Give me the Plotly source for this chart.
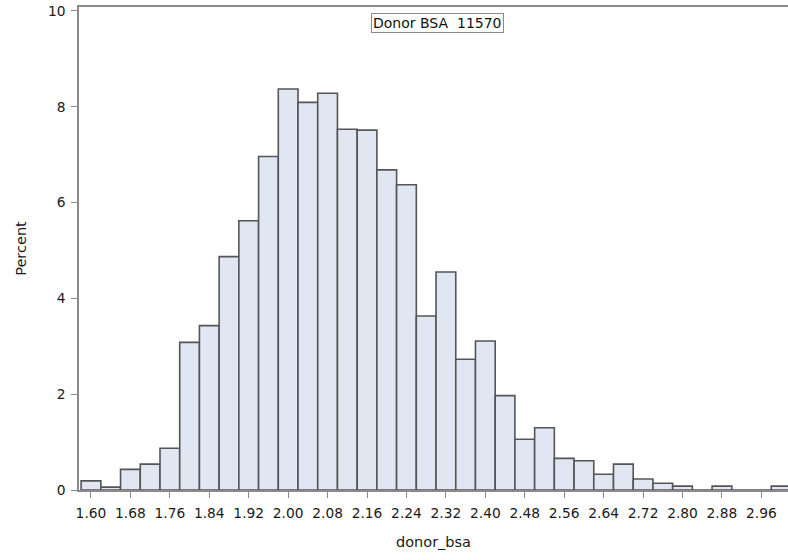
import plotly.graph_objects as go

bin_centers = [1.60, 1.64, 1.68, 1.72, 1.76, 1.80, 1.84, 1.88, 1.92, 1.96,
               2.00, 2.04, 2.08, 2.12, 2.16, 2.20, 2.24, 2.28, 2.32, 2.36,
               2.40, 2.44, 2.48, 2.52, 2.56, 2.60, 2.64, 2.68, 2.72, 2.76,
               2.80, 2.84, 2.88, 2.92, 2.96, 3.00]
percent = [0.19, 0.06, 0.43, 0.54, 0.87, 3.08, 3.43, 4.87, 5.62, 6.96,
           8.37, 8.09, 8.28, 7.53, 7.51, 6.68, 6.37, 3.63, 4.55, 2.73,
           3.11, 1.97, 1.06, 1.30, 0.66, 0.61, 0.33, 0.54, 0.23, 0.14,
           0.08, 0.0, 0.08, 0.0, 0.0, 0.08]
x_ticks = [1.60, 1.68, 1.76, 1.84, 1.92, 2.00, 2.08, 2.16, 2.24, 2.32,
           2.40, 2.48, 2.56, 2.64, 2.72, 2.80, 2.88, 2.96]
x_tick_labels = ["%.2f" % v for v in x_ticks]
y_ticks = [0, 2, 4, 6, 8, 10]
inset_text = "Donor BSA&nbsp;&nbsp;11570"

font = "DejaVu Sans"
fig = go.Figure(go.Bar(
    x=bin_centers, y=percent, width=0.04,
    marker=dict(color="#E1E7F2", line=dict(color="#555555", width=1.6)),
))

fig.update_layout(
    width=788, height=560,
    margin=dict(l=79, r=0, t=7, b=70),
    plot_bgcolor="white", paper_bgcolor="white",
    showlegend=False,
    font=dict(family=font, size=13.8, color="#1a1a1a"),
    xaxis=dict(
        range=[1.5757, 3.014], tickvals=x_ticks, ticktext=x_tick_labels,
        showline=True, linecolor="#8a8a8a", linewidth=1.5, mirror=True,
        ticks="outside", ticklen=6, tickcolor="#8a8a8a", tickwidth=1.2,
        ticklabelstandoff=4,
        showgrid=False, zeroline=False,
        title=dict(text="donor_bsa", font=dict(family=font, size=14.5), standoff=17),
    ),
    yaxis=dict(
        range=[0, 10.08], tickvals=y_ticks,
        showline=True, linecolor="#8a8a8a", linewidth=1.5,
        ticks="outside", ticklen=6, tickcolor="#8a8a8a", tickwidth=1.2,
        ticklabelstandoff=3,
        showgrid=False, zeroline=False,
        title=dict(text="Percent", font=dict(family=font, size=14.5), standoff=18),
    ),
    annotations=[dict(
        x=0.505, y=0.9876, xref="paper", yref="paper", xanchor="center", yanchor="top",
        text=inset_text, showarrow=False,
        font=dict(family=font, size=14, color="#111111"),
        bordercolor="#8a8a8a", borderwidth=1, borderpad=1, bgcolor="white",
    )],
)

fig.write_html("out.html")
